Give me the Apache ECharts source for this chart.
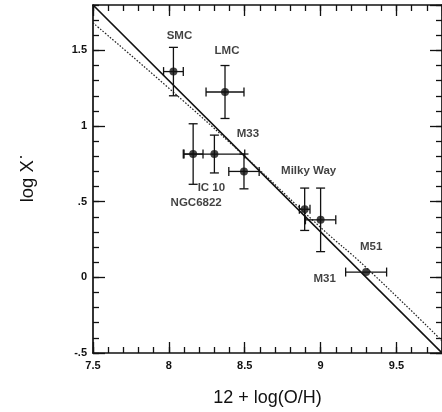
<!DOCTYPE html>
<html>
<head>
<meta charset="utf-8">
<script src="https://cdn.jsdelivr.net/npm/echarts@6/dist/echarts.min.js"></script>
<style>
  html, body { margin: 0; padding: 0; background: #fff; }
  #chart { width: 442px; height: 412px; }
</style>
</head>
<body>
<div id="chart"></div>
<script>
// Galaxies: metallicity 12 + log(O/H) against log X*
const galaxies = ['SMC', 'LMC', 'NGC6822', 'IC 10', 'M33', 'Milky Way', 'M31', 'M51'];
const oxygen   = [8.03, 8.37, 8.16, 8.30, 8.495, 8.895, 9.00, 9.30];
const oxygenErr = [0.065, 0.125, 0.065, 0.20, 0.10, 0.035, 0.10, 0.135];
const logX     = [1.36, 1.225, 0.815, 0.815, 0.70, 0.45, 0.38, 0.035];
const logXErr  = [0.16, 0.175, 0.20, 0.125, 0.115, 0.14, 0.21, 0];

// Fitted relations
const fitSolidX = [7.5, 9.8];
const fitSolidY = [1.8, -0.5];
const fitDottedX = [7.5, 8.0, 8.5, 9.0, 9.3, 9.8];
const fitDottedY = [1.682, 1.25, 0.80, 0.33, 0.065, -0.42];

// Tick labels
const xTickLabels = { 7.5: '7.5', 8: '8', 8.5: '8.5', 9: '9', 9.5: '9.5' };
const yTickLabels = { '-0.5': '-.5', 0: '0', 0.5: '.5', 1: '1', 1.5: '1.5' };

// Where each galaxy name sits relative to its point (px)
const labelOffsets = [[6, -36], [2, -41], [3, 49], [-3, 34], [4, -38], [4, -38], [4, 59], [5, -25]];

const INK = '#111';
const FONT = 'Liberation Sans, Arial, sans-serif';

const chart = echarts.init(document.getElementById('chart'), null, { renderer: 'canvas' });

function xAxisDef(pos, interval, len, withLabels, withLine) {
  return {
    type: 'value', position: pos, min: 7.5, max: 9.8, interval: interval,
    gridIndex: 0,
    axisLine: { show: withLine, onZero: false, lineStyle: { color: INK, width: 1.7 } },
    axisTick: { show: true, inside: true, length: len, lineStyle: { color: INK, width: 1.3 } },
    axisLabel: {
      show: withLabels, margin: 7, color: INK, fontSize: 11, fontFamily: FONT, fontWeight: 'bold',
      showMaxLabel: false,
      formatter: v => { const k = Math.round(v * 10) / 10; return xTickLabels[k] !== undefined ? xTickLabels[k] : ''; }
    },
    splitLine: { show: false },
    name: (pos === 'bottom' && withLabels) ? '12 + log(O/H)' : '',
    nameLocation: 'middle', nameGap: 36,
    nameTextStyle: { color: INK, fontSize: 18, fontFamily: FONT }
  };
}

function yAxisDef(pos, interval, len, withLabels, withLine) {
  return {
    type: 'value', position: pos, min: -0.5, max: 1.8, interval: interval,
    gridIndex: 0,
    axisLine: { show: withLine, onZero: false, lineStyle: { color: INK, width: 1.7 } },
    axisTick: { show: true, inside: true, length: len, lineStyle: { color: INK, width: 1.3 } },
    axisLabel: {
      show: withLabels, margin: 6, color: INK, fontSize: 11, fontFamily: FONT, fontWeight: 'bold',
      showMaxLabel: false,
      formatter: v => { const k = String(Math.round(v * 10) / 10); return yTickLabels[k] !== undefined ? yTickLabels[k] : ''; }
    },
    splitLine: { show: false },
    name: (pos === 'left' && withLabels) ? '{a|log X}{s|•}' : '',
    nameLocation: 'middle', nameGap: 56,
    nameTextStyle: {
      color: INK, fontSize: 18, fontFamily: FONT,
      rich: {
        a: { fontSize: 18.5, fontFamily: FONT, color: INK },
        s: { fontSize: 7, fontFamily: FONT, color: INK, verticalAlign: 'top', padding: [0, 0, 12, 2] }
      }
    }
  };
}

// error bars: horizontal and vertical whiskers with caps
function renderErrorBars(params, api) {
  const x = api.value(0), y = api.value(1), ex = api.value(2), ey = api.value(3);
  const style = { stroke: INK, lineWidth: 1.3, fill: null };
  const cap = 4.5;
  const children = [];
  if (ex > 0) {
    const a = api.coord([x - ex, y]), b = api.coord([x + ex, y]);
    children.push({ type: 'line', shape: { x1: a[0], y1: a[1], x2: b[0], y2: b[1] }, style });
    children.push({ type: 'line', shape: { x1: a[0], y1: a[1] - cap, x2: a[0], y2: a[1] + cap }, style });
    children.push({ type: 'line', shape: { x1: b[0], y1: b[1] - cap, x2: b[0], y2: b[1] + cap }, style });
  }
  if (ey > 0) {
    const a = api.coord([x, y - ey]), b = api.coord([x, y + ey]);
    children.push({ type: 'line', shape: { x1: a[0], y1: a[1], x2: b[0], y2: b[1] }, style });
    children.push({ type: 'line', shape: { x1: a[0] - cap, y1: a[1], x2: a[0] + cap, y2: a[1] }, style });
    children.push({ type: 'line', shape: { x1: b[0] - cap, y1: b[1], x2: b[0] + cap, y2: b[1] }, style });
  }
  return { type: 'group', children };
}

const pointData = galaxies.map((name, i) => ({
  name: name,
  value: [oxygen[i], logX[i]],
  label: {
    show: true, position: 'inside', offset: labelOffsets[i],
    formatter: '{b}', color: INK, fontSize: 11.5, fontFamily: FONT, fontWeight: 'bold'
  }
}));

chart.setOption({
  animation: false,
  backgroundColor: '#fff',
  grid: { left: 93, top: 5, width: 351, height: 351, containLabel: false },
  xAxis: [
    xAxisDef('bottom', 0.5, 11, true, true),
    xAxisDef('bottom', 0.1, 6, false, false),
    xAxisDef('top', 0.5, 11, false, true),
    xAxisDef('top', 0.1, 6, false, false)
  ],
  yAxis: [
    yAxisDef('left', 0.5, 12, true, true),
    yAxisDef('left', 0.1, 6, false, false),
    yAxisDef('right', 0.5, 12, false, true),
    yAxisDef('right', 0.1, 6, false, false)
  ],
  series: [
    {
      type: 'line', xAxisIndex: 0, yAxisIndex: 0, symbol: 'none', silent: true,
      data: fitSolidX.map((x, i) => [x, fitSolidY[i]]),
      lineStyle: { color: INK, width: 1.7 }, clip: true, z: 2
    },
    {
      type: 'line', xAxisIndex: 0, yAxisIndex: 0, symbol: 'none', silent: true, smooth: true,
      data: fitDottedX.map((x, i) => [x, fitDottedY[i]]),
      lineStyle: { color: '#222', width: 1.2, type: [1.6, 1.6] }, clip: true, z: 2
    },
    {
      type: 'custom', xAxisIndex: 0, yAxisIndex: 0, silent: true,
      renderItem: renderErrorBars,
      data: galaxies.map((_, i) => [oxygen[i], logX[i], oxygenErr[i], logXErr[i]]),
      z: 3
    },
    {
      type: 'scatter', xAxisIndex: 0, yAxisIndex: 0, symbol: 'circle', symbolSize: 8,
      itemStyle: { color: INK },
      data: pointData, z: 4
    }
  ]
});
</script>
</body>
</html>
